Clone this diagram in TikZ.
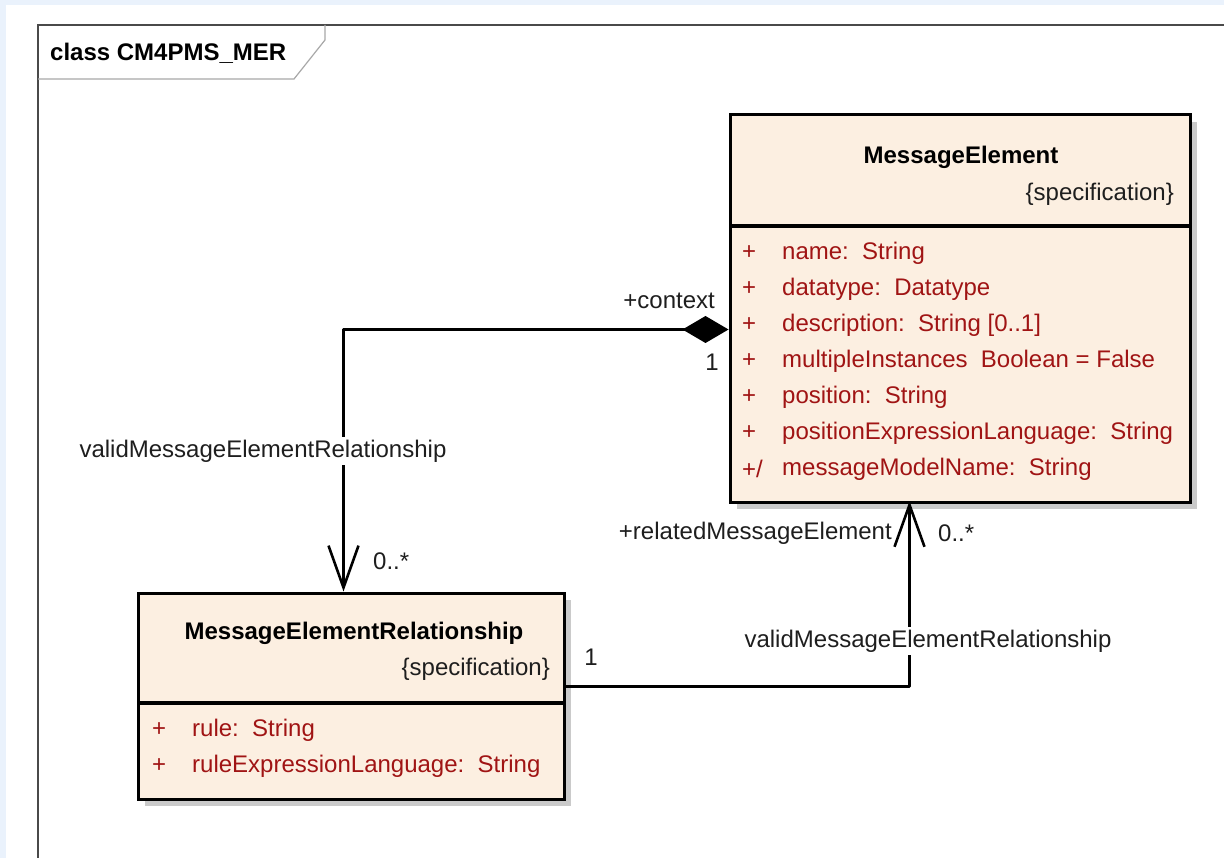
\documentclass[tikz,border=0pt]{standalone}
\usepackage{fontspec}
\setmainfont{Liberation Sans}
\usetikzlibrary{arrows.meta,shadows,calc}

\definecolor{pagebg}{HTML}{EAF2FC}
\definecolor{classfill}{HTML}{FCEFE1}
\definecolor{attrred}{HTML}{A01414}
\definecolor{framegray}{HTML}{4A4A4A}
\definecolor{tabgray}{HTML}{A8A8A8}
\definecolor{shadowgray}{HTML}{CACACA}
\definecolor{labelink}{HTML}{1E1E1E}

\tikzset{
  classbox/.style={draw=black, line width=3pt, fill=classfill, inner sep=0pt,
    drop shadow={shadow xshift=7pt, shadow yshift=-7pt, fill=shadowgray, opacity=1}},
  classname/.style={font=\fontsize{24}{29}\selectfont\bfseries, inner sep=0pt, text=black},
  stereo/.style={anchor=east, inner sep=0pt, text=labelink},
  vis/.style={anchor=west, inner sep=0pt, text=attrred},
  attr/.style={anchor=west, inner sep=0pt, text=attrred},
  sepline/.style={line width=4.5pt, black},
  assoc/.style={line width=2.6pt, black, line join=round},
  rolelbl/.style={inner sep=0pt, text=labelink},
  cutlbl/.style={inner sep=3pt, fill=white, text=labelink},
  openhead/.style={-{Straight Barb[length=42pt, width=30pt, line join=round]}},
}

\begin{document}
\begin{tikzpicture}[x=1pt, y=-1pt, font=\fontsize{24}{29}\selectfont]
  \useasboundingbox (0,0) rectangle (1224,858);
  % page background and diagram canvas
  \fill[pagebg] (0,0) rectangle (1224,858);
  \fill[white] (6,5) rectangle (1224,858);

  % diagram frame with its name tab
  \draw[framegray, line width=2.5pt] (38,858) -- (38,25) -- (1224,25);
  \draw[tabgray, line width=1.2pt] (38,79) -- (294,79) -- (325,40) -- (325,25);
  \node[classname, anchor=west] (frametitle) at (50,53) {class CM4PMS\_MER};

  % class MessageElement
  \node[classbox, minimum width=460pt, minimum height=387pt] (me) at (960,308.5) {};
  \draw[sepline] (730,226) -- (1190,226);
  \node[classname] (meName) at (961,157) {MessageElement};
  \node[stereo] (meStereo) at (1174,194) {\{specification\}};
  \node[vis] (meV1) at (742,253) {+};
  \node[attr] (meA1) at (782,253) {name:\ \ String};
  \node[vis] (meV2) at (742,289) {+};
  \node[attr] (meA2) at (782,289) {datatype:\ \ Datatype};
  \node[vis] (meV3) at (742,325) {+};
  \node[attr] (meA3) at (782,325) {description:\ \ String [0..1]};
  \node[vis] (meV4) at (742,361) {+};
  \node[attr] (meA4) at (782,361) {multipleInstances\ \ Boolean = False};
  \node[vis] (meV5) at (742,397) {+};
  \node[attr] (meA5) at (782,397) {position:\ \ String};
  \node[vis] (meV6) at (742,433) {+};
  \node[attr] (meA6) at (782,433) {positionExpressionLanguage:\ \ String};
  \node[vis] (meV7) at (742,469) {+/};
  \node[attr] (meA7) at (782,469) {messageModelName:\ \ String};

  % class MessageElementRelationship
  \node[classbox, minimum width=426pt, minimum height=206pt] (mer) at (351,696) {};
  \draw[sepline] (138,703) -- (564,703);
  \node[classname] (merName) at (354,633) {MessageElementRelationship};
  \node[stereo] (merStereo) at (550,669) {\{specification\}};
  \node[vis] (merV1) at (152,730) {+};
  \node[attr] (merA1) at (192,730) {rule:\ \ String};
  \node[vis] (merV2) at (152,766) {+};
  \node[attr] (merA2) at (192,766) {ruleExpressionLanguage:\ \ String};

  % attachment points on the class borders
  \coordinate (meCtx) at ($(me.north west)+(0,216)$);
  \coordinate (merIn) at ($(mer.north west)+(207,0)$);
  \coordinate (merOut) at ($(mer.north east)+(0,95)$);
  \coordinate (meIn) at ($(me.south west)+(181,0)$);

  % composition: MessageElement (context) -> MessageElementRelationship
  \draw[assoc, {Diamond[length=46pt, width=27pt]}-{Straight Barb[length=42pt, width=30pt]}]
    (meCtx) -| (merIn);
  % association: MessageElementRelationship -> relatedMessageElement
  \draw[assoc, openhead] (merOut) -| (meIn);

  % connector labels
  \node[rolelbl, anchor=east] (ctxRole) at (715,301) {+context};
  \node[rolelbl] (ctxMult) at (712,362) {1};
  \node[cutlbl] (leftName) at (263,451) {validMessageElementRelationship};
  \node[rolelbl, anchor=west] (leftMult) at (373,561) {0..*};
  \node[rolelbl, anchor=east] (relRole) at (892,533) {+relatedMessageElement};
  \node[rolelbl, anchor=west] (relMult) at (938,533) {0..*};
  \node[cutlbl] (rightName) at (928,641) {validMessageElementRelationship};
  \node[rolelbl] (srcMult) at (591,657) {1};
\end{tikzpicture}
\end{document}
